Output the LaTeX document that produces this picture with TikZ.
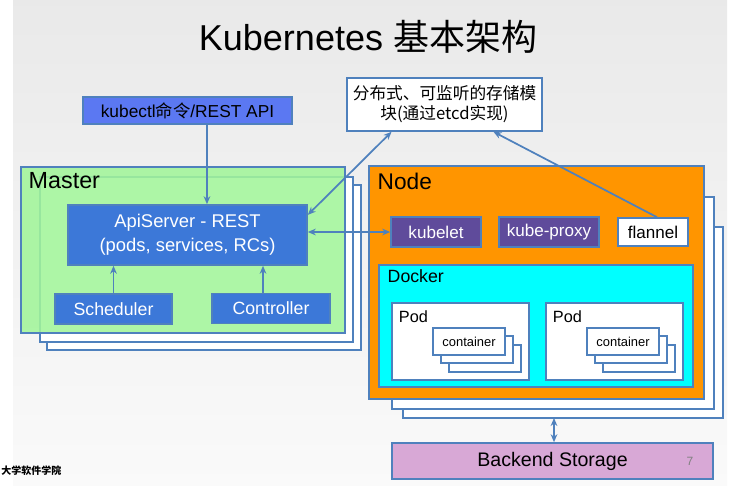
\documentclass[tikz,border=0pt]{standalone}
\usepackage{fontspec}
\setmainfont{Liberation Sans}
\newfontfamily\cjk{Noto Sans CJK SC}
\usetikzlibrary{arrows.meta}

\definecolor{edgeblue}{HTML}{4F81BD}
\definecolor{cliblue}{HTML}{5B78F2}
\definecolor{apiblue}{HTML}{3C78D8}
\definecolor{mastergreen}{HTML}{A2F59A}
\definecolor{nodeorange}{HTML}{FF9500}
\definecolor{dockercyan}{HTML}{00FFFF}
\definecolor{kubepurple}{HTML}{5F4B9B}
\definecolor{storelilac}{HTML}{D8A8D6}

\begin{document}
\begin{tikzpicture}[x=0.75pt, y=-0.75pt, >={Stealth[length=6pt, width=5pt]},
    box/.style={draw=edgeblue, line width=1.2pt, inner sep=0pt},
    back/.style={draw=edgeblue, line width=1.2pt, fill=white},
    link/.style={draw=edgeblue, line width=1.3pt}]
  \path[use as bounding box, fill=white] (0,0) rectangle (734,485);
  \shade[top color=gray!17, bottom color=gray!4] (13,0) rectangle (727,485);

  \node (title) at (368,37) {\fontsize{27}{31}\selectfont Kubernetes {\cjk 基本架构}};

  \node[box, fill=cliblue, minimum width=156.75pt, minimum height=20.25pt,
    font=\fontsize{13}{15}\selectfont] (kubectl) at (187.5,110.5) {kubectl{\cjk 命令}/REST API};
  \node[box, fill=white, minimum width=146.25pt, minimum height=39.75pt, align=center,
    font=\cjk\fontsize{12.5}{15}\selectfont] (etcd) at (444.5,104.5) {分布式、可监听的存储模\\块(通过etcd实现)};

  % master
  \draw[back] (47,185) rectangle (361,350);
  \draw[back] (40,177) rectangle (353,342);
  \node[box, fill=mastergreen, fill opacity=0.88, minimum width=243pt, minimum height=124.5pt] (master) at (183,250) {};
  \node[anchor=west, font=\fontsize{17.5}{20}\selectfont] (mastername) at (24,181) {Master};
  \node[box, fill=apiblue, text=white, minimum width=179.25pt, minimum height=45pt, align=center,
    font=\fontsize{13.8}{18}\selectfont] (apiserver) at (187.5,235) {ApiServer - REST\\(pods, services, RCs)};
  \node[box, fill=apiblue, text=white, minimum width=87.75pt, minimum height=22.5pt,
    font=\fontsize{13.3}{15}\selectfont] (scheduler) at (113.5,309) {Scheduler};
  \node[box, fill=apiblue, text=white, minimum width=88.5pt, minimum height=22.5pt,
    font=\fontsize{13.3}{15}\selectfont] (controller) at (271,308.5) {Controller};

  % node
  \draw[back] (403,227) rectangle (723,418);
  \draw[back] (392,197) rectangle (714,409);
  \node[box, fill=nodeorange, minimum width=251.25pt, minimum height=174.75pt] (worker) at (536.5,282.5) {};
  \node[anchor=west, font=\fontsize{17}{20}\selectfont] (workername) at (373,181) {Node};
  \node[box, fill=kubepurple, text=white, minimum width=67.5pt, minimum height=22.5pt,
    font=\fontsize{12.8}{15}\selectfont] (kubelet) at (436,232) {kubelet};
  \node[box, fill=kubepurple, text=white, minimum width=75pt, minimum height=22.5pt,
    font=\fontsize{12.8}{15}\selectfont] (kubeproxy) at (549,232) {kube-proxy};
  \node[box, fill=white, minimum width=52.5pt, minimum height=21pt,
    font=\fontsize{12.8}{15}\selectfont] (flannel) at (653,232) {flannel};
  \node[box, fill=dockercyan, minimum width=235.5pt, minimum height=91.5pt] (docker) at (536,326) {};
  \node[anchor=west, font=\fontsize{13.3}{15}\selectfont] (dockername) at (383,276) {Docker};
  \foreach \p/\cx in {podA/460.5, podB/614.5} {
    \node[box, fill=white, minimum width=102.75pt, minimum height=57.75pt] (\p) at (\cx,341.5) {};
    \node[anchor=north west, font=\fontsize{12.2}{14}\selectfont] (\p-name) at ([shift={(3,4)}]\p.north west) {Pod};
    \node[box, fill=white, minimum width=54pt, minimum height=20.25pt] (\p-c3) at ([shift={(24.5,17)}]\p.center) {};
    \node[box, fill=white, minimum width=54pt, minimum height=20.25pt] (\p-c2) at ([shift={(16.5,8)}]\p.center) {};
    \node[box, fill=white, minimum width=54pt, minimum height=20.25pt,
      font=\fontsize{9.7}{11}\selectfont] (\p-c1) at ([shift={(8.5,0)}]\p.center) {container};
  }
  \coordinate (stackbottom) at (554,418);

  \node[box, fill=storelilac, minimum width=240.75pt, minimum height=27pt,
    font=\fontsize{14.7}{17}\selectfont] (backend) at (552.5,461) {Backend Storage};
  \node[text=gray, font=\fontsize{9}{10}\selectfont] (pagenum) at (690,461) {7};
  \node[anchor=west, inner sep=0pt, font=\cjk\bfseries\fontsize{7.5}{9}\selectfont] (school) at (1,471) {大学软件学院};

  \draw[link, ->] ([xshift=14.6pt]kubectl.south) -- ([xshift=14.6pt]apiserver.north);
  \draw[link, ->] (scheduler.north) -- (scheduler.north |- apiserver.south);
  \draw[link, ->] ([xshift=-6pt]controller.north) -- ([xshift=-6pt]controller.north |- apiserver.south);
  \draw[link, <->] (kubelet.west -| apiserver.east) -- (kubelet.west);
  \draw[link, <->] ([yshift=-8pt]apiserver.north east) -- ([xshift=34pt]etcd.south west);
  \draw[link, ->] ([xshift=3pt]flannel.north) -- ([xshift=-37pt]etcd.south east);
  \draw[link, <->] (stackbottom) -- (stackbottom |- backend.north);
\end{tikzpicture}
\end{document}
